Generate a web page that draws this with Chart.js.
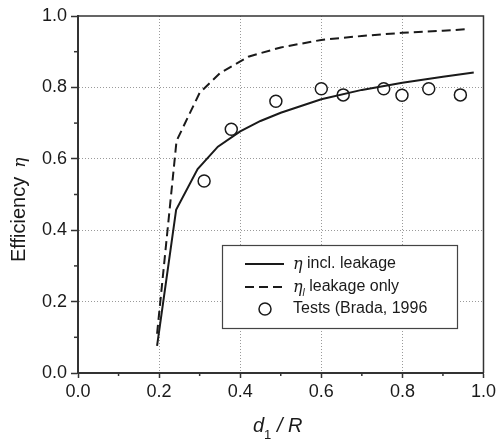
<!DOCTYPE html>
<html><head><meta charset="utf-8">
<script src="https://cdn.jsdelivr.net/npm/chart.js@4"></script>
<style>html,body{margin:0;padding:0;background:#fff}#wrap{width:499px;height:440px}</style>
</head><body><div id="wrap"><canvas id="c" width="499" height="440"></canvas></div>
<script>
// Series: efficiency incl. leakage (solid)
const solidX = [0.195, 0.242, 0.295, 0.345, 0.40, 0.45, 0.50, 0.60, 0.70, 0.80, 0.90, 0.976];
const solidY = [0.076, 0.457, 0.571, 0.634, 0.677, 0.706, 0.729, 0.767, 0.793, 0.813, 0.830, 0.842];
// Series: leakage only (dashed)
const dashX = [0.195, 0.243, 0.30, 0.35, 0.42, 0.50, 0.60, 0.70, 0.80, 0.90, 0.96];
const dashY = [0.110, 0.650, 0.785, 0.840, 0.886, 0.912, 0.933, 0.944, 0.953, 0.959, 0.963];
// Tests (Brada, 1996)
const testX = [0.311, 0.378, 0.488, 0.600, 0.654, 0.754, 0.799, 0.865, 0.943];
const testY = [0.538, 0.683, 0.761, 0.796, 0.779, 0.796, 0.778, 0.796, 0.779];
// Tick labels
const xTickLabels = ['0.0', '0.2', '0.4', '0.6', '0.8', '1.0'];
const yTickLabels = ['0.0', '0.2', '0.4', '0.6', '0.8', '1.0'];

const FONT = "'Liberation Sans', Arial, sans-serif";
const INK = '#1a1a1a';
const AXIS = '#333333';

const toPts = (xs, ys) => xs.map((x, i) => ({ x: x, y: ys[i] }));
const isMajor = v => Math.round(v * 10) % 2 === 0;
const isEdge = v => Math.abs(v) < 1e-6 || Math.abs(v - 1) < 1e-6;

const framePlugin = {
  id: 'frame',
  afterDraw(chart) {
    const { ctx, chartArea: a, scales } = chart;
    ctx.save();
    ctx.strokeStyle = AXIS;
    ctx.lineWidth = 1.5;
    ctx.beginPath();
    ctx.moveTo(a.left, a.top);
    ctx.lineTo(a.right, a.top);
    ctx.lineTo(a.right, a.bottom);
    ctx.stroke();
    for (let k = 1; k < 10; k += 2) {
      const v = k / 10;
      const px = scales.x.getPixelForValue(v);
      ctx.beginPath(); ctx.moveTo(px, a.bottom); ctx.lineTo(px, a.bottom + 3); ctx.stroke();
      const py = scales.y.getPixelForValue(v);
      ctx.beginPath(); ctx.moveTo(a.left - 4, py); ctx.lineTo(a.left, py); ctx.stroke();
    }
    ctx.restore();

    // y title
    ctx.save();
    ctx.fillStyle = INK;
    ctx.textBaseline = 'alphabetic';
    ctx.textAlign = 'left';
    ctx.translate(25, 262);
    ctx.rotate(-Math.PI / 2);
    ctx.font = '20px ' + FONT;
    const t1 = 'Efficiency  ';
    ctx.fillText(t1, 0, 0);
    const w1 = ctx.measureText(t1).width;
    ctx.font = "italic 17px 'DejaVu Serif', serif";
    ctx.fillText('\u03B7', w1 - 2, 0);
    ctx.restore();

    // x title: d1 / R
    ctx.save();
    ctx.fillStyle = INK;
    ctx.textBaseline = 'alphabetic';
    ctx.textAlign = 'left';
    let x = 253, y = 432;
    ctx.font = 'italic 20px ' + FONT;
    ctx.fillText('d', x, y); x += ctx.measureText('d').width;
    ctx.font = '13px ' + FONT;
    ctx.fillText('1', x, y + 7); x += ctx.measureText('1').width;
    ctx.font = 'italic 20px ' + FONT;
    ctx.fillText(' / ', x, y); x += ctx.measureText(' / ').width;
    ctx.fillText('R', x, y);
    ctx.restore();
  }
};

const legendPlugin = {
  id: 'customLegend',
  afterDatasetsDraw(chart) {
    const { ctx } = chart;
    const L = 222, T = 245, R = 457, B = 328;
    ctx.save();
    ctx.fillStyle = '#ffffff';
    ctx.fillRect(L, T, R - L, B - T);
    ctx.strokeStyle = '#444';
    ctx.lineWidth = 1.2;
    ctx.strokeRect(L + 0.5, T + 0.5, R - L, B - T);
    const rows = [264, 287, 309];
    const ds = chart.data.datasets;
    ctx.strokeStyle = ds[0].borderColor; ctx.lineWidth = ds[0].borderWidth;
    ctx.setLineDash([]);
    ctx.beginPath(); ctx.moveTo(245, rows[0]); ctx.lineTo(284, rows[0]); ctx.stroke();
    ctx.strokeStyle = ds[1].borderColor; ctx.lineWidth = ds[1].borderWidth;
    ctx.setLineDash(ds[1].borderDash);
    ctx.beginPath(); ctx.moveTo(245, rows[1]); ctx.lineTo(284, rows[1]); ctx.stroke();
    ctx.setLineDash([]);
    ctx.strokeStyle = ds[2].pointBorderColor; ctx.lineWidth = ds[2].pointBorderWidth;
    ctx.fillStyle = '#fff';
    ctx.beginPath(); ctx.arc(265, rows[2], ds[2].pointRadius, 0, Math.PI * 2); ctx.fill(); ctx.stroke();

    ctx.fillStyle = INK;
    ctx.textBaseline = 'middle';
    ctx.textAlign = 'left';
    const tx = 293;
    ctx.font = "italic 16px 'DejaVu Serif', serif";
    ctx.fillText('\u03B7', tx, rows[0] + 1);
    let w = ctx.measureText('\u03B7').width;
    ctx.font = '16px ' + FONT;
    ctx.fillText(' incl. leakage', tx + w, rows[0]);
    ctx.font = "italic 16px 'DejaVu Serif', serif";
    ctx.fillText('\u03B7', tx, rows[1] + 1);
    w = ctx.measureText('\u03B7').width;
    ctx.font = 'italic 10px ' + FONT;
    ctx.fillText('l', tx + w, rows[1] + 6);
    w += ctx.measureText('l').width;
    ctx.font = '16px ' + FONT;
    ctx.fillText(' leakage only', tx + w, rows[1]);
    ctx.fillText('Tests (Brada, 1996', tx, rows[2]);
    ctx.restore();
  }
};

new Chart(document.getElementById('c'), {
  type: 'scatter',
  data: {
    datasets: [
      { label: 'incl. leakage', data: toPts(solidX, solidY), showLine: true,
        borderColor: INK, borderWidth: 2, pointRadius: 0, tension: 0, fill: false },
      { label: 'leakage only', data: toPts(dashX, dashY), showLine: true,
        borderColor: INK, borderWidth: 2, borderDash: [9, 5], pointRadius: 0, tension: 0, fill: false },
      { label: 'Tests (Brada, 1996', data: toPts(testX, testY), showLine: false,
        pointRadius: 6, pointBorderWidth: 1.5, pointBorderColor: INK,
        pointBackgroundColor: '#ffffff', pointHoverRadius: 6 }
    ]
  },
  options: {
    responsive: false,
    animation: false,
    devicePixelRatio: 1,
    layout: { padding: { left: 0, top: 16, right: 13, bottom: 0 } },
    plugins: { legend: { display: false }, tooltip: { enabled: false } },
    scales: {
      x: {
        type: 'linear', min: 0, max: 1,
        afterFit: s => { s.height = 67; },
        ticks: {
          stepSize: 0.1, autoSkip: false, maxRotation: 0, padding: 3,
          color: INK, font: { family: FONT, size: 18 },
          callback: (v, i) => (i % 2 === 0 ? xTickLabels[i / 2] : '')
        },
        grid: {
          color: c => (c.tick && isMajor(c.tick.value) && !isEdge(c.tick.value)) ? '#9a9a9a' : 'rgba(0,0,0,0)',
          lineWidth: 1,
          tickLength: 5,
          tickWidth: 1.5,
          tickColor: c => (c.tick && isMajor(c.tick.value)) ? AXIS : 'rgba(0,0,0,0)'
        },
        border: { display: true, color: AXIS, width: 2, dash: [1, 2] }
      },
      y: {
        type: 'linear', min: 0, max: 1,
        afterFit: s => { s.width = 78; },
        ticks: {
          stepSize: 0.1, autoSkip: false, padding: 4,
          color: INK, font: { family: FONT, size: 18 },
          callback: (v, i) => (i % 2 === 0 ? yTickLabels[i / 2] : '')
        },
        grid: {
          color: c => (c.tick && isMajor(c.tick.value) && !isEdge(c.tick.value)) ? '#9a9a9a' : 'rgba(0,0,0,0)',
          lineWidth: 1,
          tickLength: 7,
          tickWidth: 1.5,
          tickColor: c => (c.tick && isMajor(c.tick.value)) ? AXIS : 'rgba(0,0,0,0)'
        },
        border: { display: true, color: AXIS, width: 2, dash: [1, 2] }
      }
    }
  },
  plugins: [framePlugin, legendPlugin]
});
</script></body></html>
